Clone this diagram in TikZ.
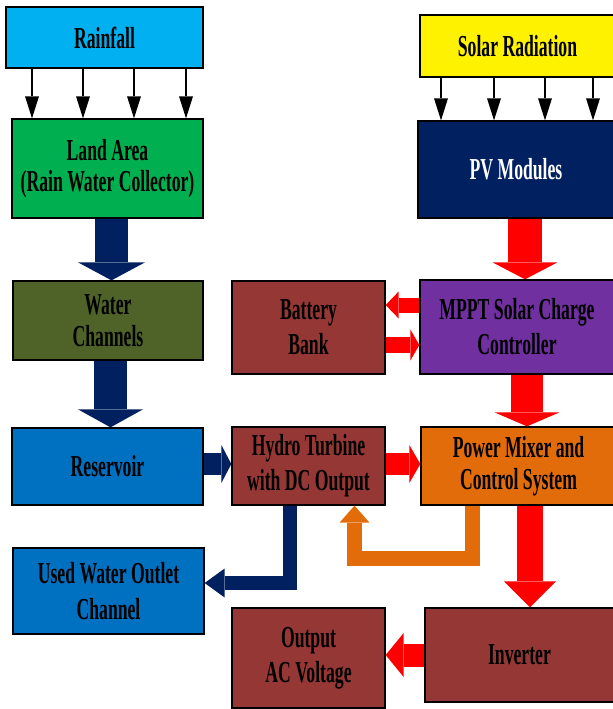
\documentclass[tikz,border=0pt]{standalone}
\usepackage{fontspec}
\setmainfont{Liberation Serif}[FakeStretch=0.58]
\usetikzlibrary{arrows.meta}
\newlength\px
\setlength\px{0.03cm}

\definecolor{rainblue}{RGB}{0,176,240}
\definecolor{landgreen}{RGB}{0,176,80}
\definecolor{chanolive}{RGB}{79,98,40}
\definecolor{resblue}{RGB}{0,112,192}
\definecolor{pvnavy}{RGB}{0,32,96}
\definecolor{mpptpurple}{RGB}{112,48,160}
\definecolor{brick}{RGB}{149,55,53}
\definecolor{mixorange}{RGB}{226,108,10}

\tikzset{
  basic/.style   = {draw, line width=1.3*\px, rectangle, inner sep=0pt, align=center,
                   font=\fontsize{26}{30}\selectfont\bfseries},
  boxsize/.style 2 args = {minimum width=#1*\px, minimum height=#2*\px},
  bighead/.style 2 args = {/utils/exec={\pgfmathsetlengthmacro\headlen{#1*\px}%
                             \pgfmathsetlengthmacro\headwid{#2*\px}},
                   -{Triangle[length=\headlen,width=\headwid,line width=0pt]}},
  ray/.style     = {line width=2*\px, bighead={22}{14}},
  waterflow/.style = {draw=pvnavy},
  powerflow/.style = {draw=red},
  ctrlflow/.style  = {draw=mixorange}
}

\begin{document}
\begin{tikzpicture}[x=1\px, y=-1\px]
\useasboundingbox (0,0) rectangle (612,709);

% water side
\node[basic, fill=rainblue, boxsize={197}{61}] (rain) at (104.5,37.5) {Rainfall};
\node[basic, fill=landgreen, boxsize={191}{99}] (land) at (107.5,168.5) {Land Area\\[-3pt](Rain Water Collector)};
\node[basic, fill=chanolive, boxsize={190}{79}] (chan) at (108,320.5) {Water\\[-3pt]Channels};
\node[basic, fill=resblue, boxsize={191}{77}] (res) at (107.5,466.5) {Reservoir};
\node[basic, fill=resblue, boxsize={191}{86}] (outlet) at (108.5,591) {Used Water Outlet\\Channel};

% solar side
\node[basic, fill=yellow, boxsize={195}{62}] (solar) at (517.5,46) {Solar Radiation};
\node[basic, fill=pvnavy, text=white, boxsize={196}{97}] (pv) at (516,169.5) {PV Modules};
\node[basic, fill=mpptpurple, boxsize={194}{94}] (mppt) at (517,327) {MPPT Solar Charge\\Controller};
\node[basic, fill=brick, boxsize={153}{93}] (bat) at (308.5,327.5) {Battery\\Bank};

% mixing and output
\node[basic, fill=brick, boxsize={153}{78}] (hydro) at (308.5,466) {Hydro Turbine\\with DC Output};
\node[basic, fill=mixorange, boxsize={195}{78}] (mixer) at (518.5,466) {Power Mixer and\\[-3pt]Control System};
\node[basic, fill=brick, boxsize={153}{100}] (acout) at (308.5,658) {Output\\AC Voltage};
\node[basic, fill=brick, boxsize={189}{94}] (inv) at (519.5,655) {Inverter};

% rays
\foreach \x in {32,83,134,186}
  \draw[ray] (\x,0 |- rain.south) -- (\x,0 |- land.north);
\foreach \x in {441,494,545,593}
  \draw[ray] (\x,0 |- solar.south) -- (\x,0 |- pv.north);

% water flow
\draw[waterflow, line width=33*\px, bighead={18}{67}] (111.5,0 |- land.south) -- (111.5,0 |- chan.north);
\draw[waterflow, line width=33*\px, bighead={18}{65}] (110.5,0 |- chan.south) -- (110.5,0 |- res.north);
\draw[waterflow, line width=22*\px, bighead={10}{38}] (res.east |- 0,464) -- (hydro.west |- 0,464);
\coordinate (wbend) at (290,583);
\draw[waterflow, line width=14*\px, bighead={20}{29}] (wbend |- hydro.south) -- (wbend) -- (outlet.east |- wbend);

% power flow
\draw[powerflow, line width=34*\px, bighead={17}{65}] (525,0 |- pv.south) -- (525,0 |- mppt.north);
\draw[powerflow, line width=15*\px, bighead={13}{27}] (mppt.west |- 0,305) -- (bat.east |- 0,305);
\draw[powerflow, line width=16*\px, bighead={9}{31}] (bat.east |- 0,345) -- (mppt.west |- 0,345);
\draw[powerflow, line width=32*\px, bighead={14}{65}] (527,0 |- mppt.south) -- (527,0 |- mixer.north);
\draw[powerflow, line width=22*\px, bighead={11}{38}] (hydro.east |- 0,464) -- (mixer.west |- 0,464);
\draw[powerflow, line width=26*\px, bighead={26}{52}] (530,0 |- mixer.south) -- (530,0 |- inv.north);
\draw[powerflow, line width=23*\px, bighead={18}{44}] (inv.west |- 0,655) -- (acout.east |- 0,655);

% control loop
\coordinate (cbendR) at (472.5,558);
\coordinate (cbendL) at (354.5,558);
\draw[ctrlflow, line width=15*\px, bighead={17}{30}] (cbendR |- mixer.south) -- (cbendR) -- (cbendL) -- (cbendL |- hydro.south);

\end{tikzpicture}
\end{document}
